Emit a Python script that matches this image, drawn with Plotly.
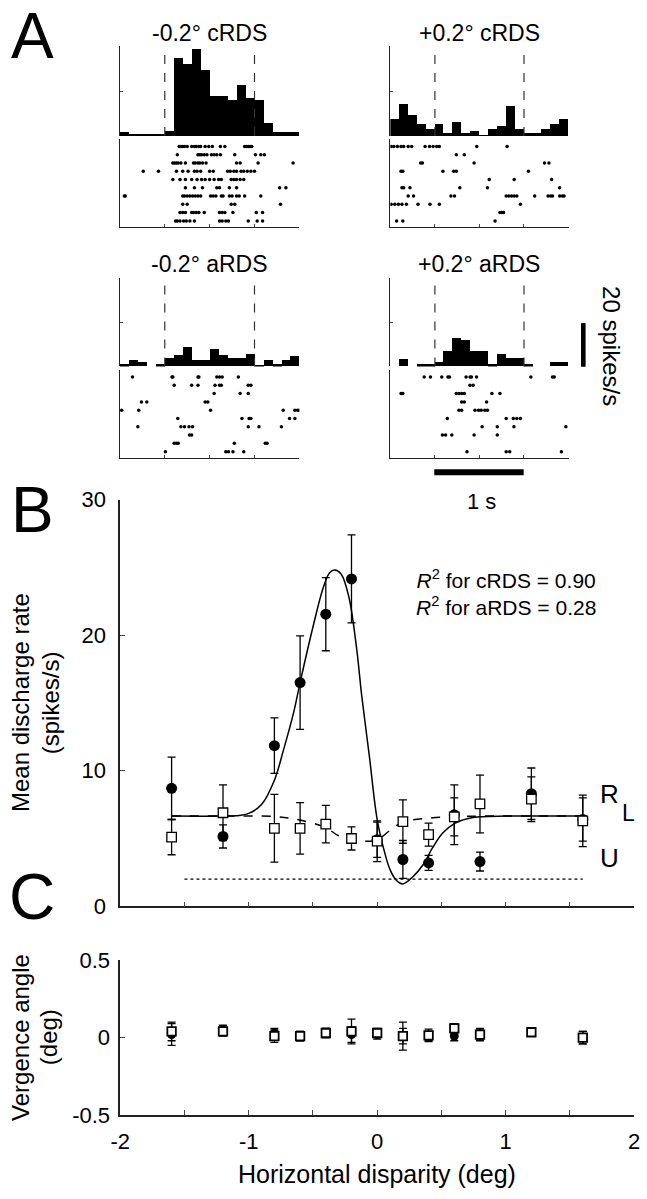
import plotly.graph_objects as go

W, H = 647, 1199
FONT = "Liberation Sans, Arial, sans-serif"

# ---------------- panel A data ----------------
bin_centers = [-0.45, -0.35, -0.25, -0.15, -0.05, 0.05, 0.15, 0.25, 0.35, 0.45,
               0.55, 0.65, 0.75, 0.85, 0.95, 1.05, 1.15, 1.25, 1.35, 1.45]

psth_neg_crds = [1.9, 0.6, 0.9, 0.6, 1.0, 2.0, 34.6, 32.1, 38.7, 29.5,
                 17.8, 17.8, 15.8, 22.8, 16.8, 15.8, 5.8, 1.9, 1.9, 1.9]
psth_pos_crds = [7.6, 14.2, 9.3, 5.3, 3.2, 5.3, 1.3, 6.1, 1.3, 2.3,
                 0.3, 3.2, 4.4, 13.3, 3.2, 1.3, 1.3, 3.2, 5.3, 7.3]
psth_neg_ards = [0.9, 2.9, 1.8, 0.0, 0.9, 3.9, 5.0, 8.8, 2.9, 2.9,
                 7.7, 5.0, 3.9, 3.9, 5.8, 0.7, 2.9, 0.9, 2.9, 4.7]
psth_pos_ards = [0.0, 3.2, 0.0, 0.9, 0.9, 2.0, 6.9, 13.0, 12.0, 6.9,
                 6.9, 0.9, 5.8, 3.9, 3.9, 0.9, 0.0, 0.0, 2.0, 2.0]

# spike times (s) per trial, trials 1..10 top to bottom
raster_neg_crds = [
    [0.16, 0.18, 0.20, 0.22, 0.25, 0.30, 0.33, 0.35, 0.38, 0.40, 0.45, 0.49, 0.53, 0.62, 0.67, 0.89, 0.91, 0.93, 0.95, 0.97],
    [0.14, 0.37, 0.39, 0.41, 0.44, 0.47, 0.52, 0.55, 0.58, 0.62, 0.78, 1.01, 1.07, 1.11],
    [0.09, 0.11, 0.13, 0.15, 0.18, 0.23, 0.32, 0.34, 0.37, 0.39, 0.42, 0.46, 0.80, 0.84, 1.04, 1.43],
    [-0.24, -0.07, 0.13, 0.20, 0.26, 0.33, 0.36, 0.40, 0.50, 0.54, 0.70, 0.73, 0.77, 0.80, 0.85, 0.88, 0.92, 0.96, 1.00],
    [0.09, 0.17, 0.23, 0.30, 0.36, 0.41, 0.45, 0.50, 0.55, 0.60, 0.63, 0.74, 0.77, 0.80, 0.84, 0.88],
    [0.23, 0.33, 0.42, 0.58, 0.61, 0.72, 0.80, 1.28, 1.35],
    [-0.45, -0.44, 0.20, 0.22, 0.25, 0.28, 0.31, 0.34, 0.37, 0.40, 0.51, 0.54, 0.57, 0.63, 0.65, 0.72, 0.75, 0.80, 0.83, 0.89, 1.07],
    [0.20, 0.25, 0.74, 0.78, 1.29],
    [0.17, 0.20, 0.23, 0.30, 0.32, 0.35, 0.38, 0.44, 0.61, 0.64, 0.67, 0.76, 1.02, 1.09],
    [0.12, 0.14, 0.17, 0.21, 0.24, 0.28, 0.33, 0.61, 0.64, 0.68, 0.71, 0.93, 1.03, 1.09],
]
raster_pos_crds = [
    [-0.49, -0.46, -0.42, -0.38, -0.35, -0.30, -0.26, -0.11, -0.06, -0.02, 0.02, 0.05, 0.47, 0.81],
    [0.24, 0.33],
    [-0.16, -0.14, 0.44, 1.23, 1.28],
    [-0.38, -0.36, 0.09, 0.21, 0.24, 1.05],
    [0.61, 0.89, 1.31],
    [-0.37, -0.35, -0.28, 0.28, 0.59, 1.40],
    [-0.30, -0.24, 0.18, 0.22, 0.80, 0.83, 0.86, 0.89, 0.92, 1.12, 1.27, 1.30, 1.32, 1.40, 1.43, 1.45],
    [-0.49, -0.45, -0.41, -0.37, -0.32, -0.19, -0.055, 0.05, 0.96],
    [0.73, 0.75, 0.77],
    [-0.43, -0.36, 0.675],
]
raster_neg_ards = [
    [-0.36, 0.08, 0.09, 0.37, 0.38, 0.58, 0.61, 0.64, 0.82],
    [0.105, 0.30, 0.37, 0.56, 0.61, 0.63, 0.93, 0.96],
    [0.55, 0.84, 0.93],
    [-0.26, -0.20, 0.45, 0.48],
    [-0.48, -0.29, 0.51, 1.32, 1.45, 1.48, 1.50],
    [0.145, 0.86, 0.94, 0.96, 1.39, 1.45],
    [-0.30, 0.18, 0.22, 0.27, 0.31, 0.93, 1.05, 1.30],
    [0.275, 0.30],
    [0.105, 0.13, 0.15, 0.775, 1.12, 1.14],
    [0.007, 0.68, 0.71, 0.76, 0.88],
]
raster_pos_ards = [
    [-0.12, -0.05, 0.077, 0.146, 0.164, 0.35, 0.394, 0.41, 0.467, 1.077, 1.32, 1.34],
    [0.394, 0.43],
    [-0.38, -0.36, 0.24, 0.27, 0.30, 0.33, 0.64, 0.73],
    [0.30, 0.33, 0.58],
    [0.27, 0.30, 0.45, 0.49, 0.52, 0.56, 0.59],
    [0.14, 0.80, 0.88, 0.92, 0.96],
    [0.53, 0.70, 0.887, 1.47],
    [0.084, 0.12, 0.19, 0.44, 0.70],
    [],
    [0.36, 0.80, 0.84, 1.42],
]

panel_titles = ["-0.2° cRDS", "+0.2° cRDS", "-0.2° aRDS", "+0.2° aRDS"]
stim_on, stim_off = 0.0, 1.0

# ---------------- panel B data ----------------
disparity = [-1.6, -1.2, -0.8, -0.6, -0.4, -0.2, 0.0, 0.2, 0.4, 0.6, 0.8, 1.2, 1.6]
crds_rate = [8.7, 5.15, 11.85, 16.5, 21.55, 24.15, 4.9, 3.45, 3.2, 6.75, 3.3, 8.3, 6.4]
crds_err = [2.3, 0.85, 2.05, 3.45, 2.7, 3.25, 1.3, 1.4, 0.55, 2.2, 0.7, 1.9, 1.6]
ards_rate = [5.1, 6.9, 5.75, 5.75, 6.06, 5.0, 4.8, 6.25, 5.28, 6.6, 7.55, 7.9, 6.3]
ards_err = [1.3, 2.05, 2.5, 1.9, 1.38, 0.85, 1.5, 1.6, 0.85, 1.4, 2.13, 1.65, 1.9]

crds_fit_x = [-1.6, -1.2, -1.1, -1.0, -0.9, -0.8, -0.73, -0.65, -0.6, -0.5, -0.42, -0.37,
              -0.33, -0.28, -0.22, -0.16, -0.12, -0.06, 0.0, 0.06, 0.1, 0.15, 0.2, 0.28,
              0.36, 0.43, 0.51, 0.6, 0.7, 0.8, 1.0, 1.6]
crds_fit_y = [6.65, 6.65, 6.67, 6.85, 7.5, 9.3, 11.5, 14.3, 16.5, 20.6, 23.5, 24.6,
              24.8, 24.5, 22.8, 19.0, 15.5, 11.0, 6.4, 3.9, 2.7, 1.9, 1.65, 2.2,
              3.1, 4.3, 5.4, 6.1, 6.45, 6.6, 6.65, 6.65]
ards_fit_x = [-1.6, -1.2, -0.8, -0.6, -0.4, -0.3, -0.2, -0.1, 0.0, 0.1, 0.2, 0.4, 0.6, 0.8, 1.6]
ards_fit_y = [6.65, 6.65, 6.62, 6.36, 5.8, 5.2, 4.95, 4.8, 4.9, 5.6, 6.2, 6.5, 6.6, 6.65, 6.65]

spont_x = [-1.5, 1.6]
spont_rate = [2.0, 2.0]

r2_crds, r2_ards = "0.90", "0.28"

# ---------------- panel C data ----------------
verg_crds = [0.02, 0.05, 0.03, 0.01, 0.03, 0.02, 0.02, 0.01, 0.01, 0.01, 0.02, 0.04, 0.0]
verg_crds_err = [0.07, 0.03, 0.03, 0.03, 0.03, 0.05, 0.03, 0.05, 0.03, 0.03, 0.03, 0.02, 0.04]
verg_ards = [0.04, 0.04, 0.01, 0.01, 0.03, 0.04, 0.03, 0.01, 0.015, 0.06, 0.02, 0.035, 0.0]
verg_ards_err = [0.06, 0.03, 0.04, 0.03, 0.03, 0.08, 0.03, 0.09, 0.04, 0.03, 0.04, 0.02, 0.04]


def px(x):
    return x / W


def py(y):
    return 1 - y / H


def label(x, y, text, size, angle=0, anchor="center"):
    return dict(x=px(x), y=py(y), xref="paper", yref="paper", text=text, showarrow=False,
                xanchor=anchor, yanchor="middle", textangle=angle, font=dict(size=size, color="black"))


fig = go.Figure()
layout = {}
shapes = []
annotations = []

cols = [(112.7, 296.7), (390.0, 572.7)]
rows = [(35.0, 126.7, 130.0, 220.0), (271.7, 362.0, 365.5, 455.7)]
psths = [psth_neg_crds, psth_pos_crds, psth_neg_ards, psth_pos_ards]
rasters = [raster_neg_crds, raster_pos_crds, raster_neg_ards, raster_pos_ards]
title_y = [21, 21, 257, 257]

for i in range(4):
    c0, c1 = cols[i % 2]
    h_top, h_bot, r_top, r_bot = rows[i // 2]
    nh, nr = 2 * i + 1, 2 * i + 2
    xh = "x" if nh == 1 else f"x{nh}"
    yh = "y" if nh == 1 else f"y{nh}"
    xr, yr = f"x{nr}", f"y{nr}"

    fig.add_trace(go.Bar(x=bin_centers, y=psths[i], width=0.1, marker=dict(color="black", line_width=0),
                         xaxis=xh, yaxis=yh, showlegend=False))
    tx, ty = [], []
    for k, trial in enumerate(rasters[i]):
        tx += trial
        ty += [k + 1] * len(trial)
    fig.add_trace(go.Scatter(x=tx, y=ty, mode="markers", marker=dict(color="black", size=3.5),
                             xaxis=xr, yaxis=yr, showlegend=False))

    kh = "xaxis" if nh == 1 else f"xaxis{nh}"
    layout[kh] = dict(domain=[px(c0), px(c1)], range=[-0.5, 1.5], anchor=yh, visible=False)
    layout[kh.replace("x", "y", 1)] = dict(domain=[py(h_bot), py(h_top)], range=[0, 40], anchor=xh,
                                           showline=True, linecolor="#222", linewidth=1, ticks="inside",
                                           tickvals=[20, 40], ticklen=3, showticklabels=False,
                                           showgrid=False, zeroline=False)
    layout[f"xaxis{nr}"] = dict(domain=[px(c0), px(c1)], range=[-0.5, 1.5], anchor=yr,
                                showline=True, linecolor="#222", linewidth=1, ticks="inside",
                                tickvals=[-0.5, 0, 0.5, 1, 1.5], ticklen=3, showticklabels=False,
                                showgrid=False, zeroline=False)
    layout[f"yaxis{nr}"] = dict(domain=[py(r_bot), py(r_top)], range=[10.79, 0.14], anchor=xr,
                                showline=True, linecolor="#222", linewidth=1, ticks="",
                                showticklabels=False, showgrid=False, zeroline=False)
    for t in (stim_on, stim_off):
        shapes.append(dict(type="line", xref=xh, yref=f"{yh} domain", x0=t, x1=t, y0=0, y1=1,
                           line=dict(color="#333", width=1.2, dash="dash")))
    annotations.append(label((c0 + c1) / 2, title_y[i], panel_titles[i], 23))

# scale bars
shapes.append(dict(type="rect", xref="paper", yref="paper", x0=px(585.5), x1=px(590.2),
                   y0=py(362.3), y1=py(317.7), fillcolor="black", line_width=0))
shapes.append(dict(type="rect", xref="paper", yref="paper", x0=px(435), x1=px(526.7),
                   y0=py(473), y1=py(467), fillcolor="black", line_width=0))
annotations.append(label(616, 341, "20 spikes/s", 24, angle=90))
annotations.append(label(483, 500, "1 s", 22))

# ---------------- panel B ----------------
bx0, bx1 = 113.0, 640.0
err_style = dict(type="data", color="black", thickness=1.3, width=4)
fig.add_trace(go.Scatter(x=spont_x, y=spont_rate, mode="lines", line=dict(color="black", width=1.3, dash="dot"),
                         xaxis="x9", yaxis="y9", showlegend=False))
fig.add_trace(go.Scatter(x=crds_fit_x, y=crds_fit_y, mode="lines", line=dict(color="black", width=1.5, shape="spline"),
                         xaxis="x9", yaxis="y9", showlegend=False))
fig.add_trace(go.Scatter(x=ards_fit_x, y=ards_fit_y, mode="lines",
                         line=dict(color="black", width=1.5, dash="dash", shape="spline"),
                         xaxis="x9", yaxis="y9", showlegend=False))
fig.add_trace(go.Scatter(x=disparity, y=crds_rate, mode="markers", error_y=dict(array=crds_err, **err_style),
                         marker=dict(color="black", size=11, symbol="circle"),
                         xaxis="x9", yaxis="y9", showlegend=False))
fig.add_trace(go.Scatter(x=disparity, y=ards_rate, mode="markers", error_y=dict(array=ards_err, **err_style),
                         marker=dict(color="white", size=9.5, symbol="square", line=dict(color="black", width=1.3)),
                         xaxis="x9", yaxis="y9", showlegend=False))

xt = [-2, -1.5, -1, -0.5, 0, 0.5, 1, 1.5, 2]
layout["xaxis9"] = dict(domain=[px(bx0), px(bx1)], range=[-2, 2], anchor="y9", showline=True, linecolor="#222",
                        linewidth=1.5, ticks="inside", ticklen=5, tickvals=xt, showticklabels=False,
                        showgrid=False, zeroline=False)
layout["yaxis9"] = dict(domain=[py(913.3), py(498)], range=[0, 30], anchor="x9", showline=True, linecolor="#222",
                        linewidth=1.5, ticks="inside", ticklen=5, tickvals=[0, 10, 20, 30], ticklabelstandoff=8,
                        showgrid=False, zeroline=False, tickfont=dict(size=22, color="black"))

annotations.append(label(414, 593, f"<i>R</i><sup>2</sup> for cRDS = {r2_crds}<br>"
                                   f"<i>R</i><sup>2</sup> for aRDS = {r2_ards}", 21, anchor="left"))
annotations.append(label(615, 799, "R", 26))
annotations.append(label(634, 818, "L", 23))
annotations.append(label(615, 864, "U", 26))
annotations.append(label(11, 705, "Mean discharge rate", 24, angle=-90))
annotations.append(label(41, 705, "(spikes/s)", 24, angle=-90))

# ---------------- panel C ----------------
fig.add_trace(go.Scatter(x=disparity, y=verg_crds, mode="markers", error_y=dict(array=verg_crds_err, **err_style),
                         marker=dict(color="black", size=9, symbol="circle"),
                         xaxis="x10", yaxis="y10", showlegend=False))
fig.add_trace(go.Scatter(x=disparity, y=verg_ards, mode="markers", error_y=dict(array=verg_ards_err, **err_style),
                         marker=dict(color="white", size=8.5, symbol="square", line=dict(color="black", width=1.8)),
                         xaxis="x10", yaxis="y10", showlegend=False))

layout["xaxis10"] = dict(domain=[px(bx0), px(bx1)], range=[-2, 2], anchor="y10", showline=True, linecolor="#222",
                         linewidth=1.5, ticks="inside", ticklen=5, tickvals=xt, ticklabelstandoff=6,
                         ticktext=["-2", "", "-1", "", "0", "", "1", "", "2"],
                         showgrid=False, zeroline=False, tickfont=dict(size=22, color="black"))
layout["yaxis10"] = dict(domain=[py(1126.7), py(968.3)], range=[-0.5, 0.5], anchor="x10", showline=True,
                         linecolor="#222", linewidth=1.5, ticks="inside", ticklen=5, tickvals=[-0.5, 0, 0.5],
                         ticktext=["-0.5", "0", "0.5"], showgrid=False, zeroline=False, ticklabelstandoff=4,
                         tickfont=dict(size=22, color="black"))

annotations.append(label(10, 1047, "Vergence angle", 24, angle=-90))
annotations.append(label(39, 1047, "(deg)", 24, angle=-90))
annotations.append(label(376.5, 1187, "Horizontal disparity (deg)", 25))

# panel letters
for letter, ly in (("A", 25), ("B", 509), ("C", 904)):
    annotations.append(label(23, ly, letter, 64))

fig.update_layout(width=W, height=H, margin=dict(l=0, r=0, t=0, b=0), plot_bgcolor="white",
                  paper_bgcolor="white", font=dict(family=FONT, color="black"),
                  bargap=0, shapes=shapes, annotations=annotations, **layout)

fig.write_html("out.html", config={"displayModeBar": False},
               post_script="document.body.style.margin='0';document.body.style.overflow='hidden';")
